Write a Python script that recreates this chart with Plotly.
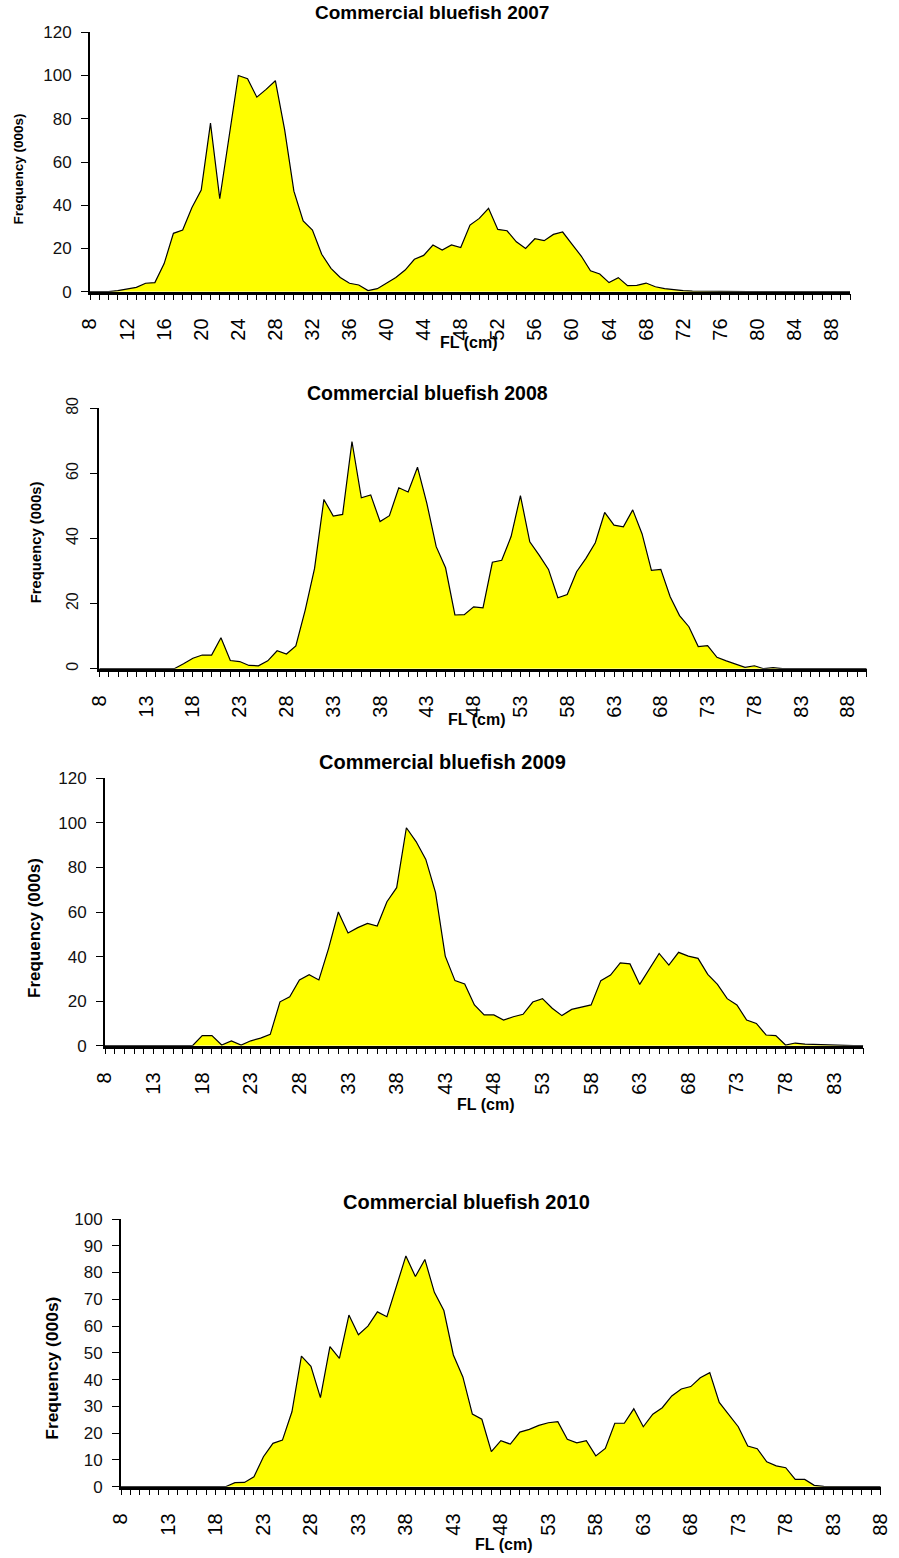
import plotly.graph_objects as go

# Length-frequency of commercial bluefish landings, by fork length (cm)
len_2007 = list(range(8, 91))
freq_2007 = [0, 0, 0, 0.5, 1.2, 2, 3.9, 4.2, 13, 27, 28.5, 39, 47, 78, 43, 72,
             100, 98.5, 90, 93.6, 97.6, 75, 46.5, 32.7, 28.5, 17.3, 10.8, 6.6,
             3.9, 3.1, 0.5, 1.4, 3.9, 6.6, 10, 15, 16.8, 21.6, 19.3, 21.6, 20.4,
             30.8, 33.9, 38.6, 28.8, 28.2, 23.1, 20, 24.5, 23.6, 26.5, 27.6, 22,
             16.5, 9.7, 8.2, 4.2, 6.5, 2.8, 2.9, 4, 2.3, 1.4, 0.8, 0.5, 0.3, 0.2,
             0.1, 0.1, 0, 0, 0, 0, 0, 0, 0, 0, 0, 0, 0, 0, 0, 0]

len_2008 = list(range(8, 91))
freq_2008 = [0, 0, 0, 0, 0, 0, 0, 0, 0, 1.5, 3.2, 4.2, 4.2, 9.5, 2.5, 2.2, 1.0,
             0.9, 2.4, 5.5, 4.5, 7, 18, 30.8, 52, 46.9, 47.4, 69.8, 52.5, 53.4,
             45.2, 47, 55.6, 54.3, 61.9, 50.8, 37.5, 31, 16.5, 16.6, 19, 18.7,
             32.7, 33.3, 40.6, 53.2, 39, 34.9, 30.5, 21.8, 22.8, 29.8, 33.9, 38.7,
             48, 44.1, 43.6, 48.8, 41.4, 30.2, 30.5, 22.1, 16.3, 12.9, 6.8, 7.1,
             3.5, 2.4, 1.5, 0.4, 0.9, 0, 0.3, 0, 0, 0, 0, 0, 0, 0, 0, 0, 0]

len_2009 = list(range(8, 87))
freq_2009 = [0, 0, 0, 0, 0, 0, 0, 0, 0, 0, 4.5, 4.5, 0.3, 2.1, 0.3, 2.2, 3.4,
             5.1, 19.7, 22, 29.5, 31.9, 29.5, 43.7, 60, 50.6, 53, 54.9, 53.7,
             64.6, 70.9, 97.8, 91.6, 83.6, 68.7, 40.2, 29.2, 27.7, 18.3, 13.8,
             13.8, 11.5, 13, 14.1, 19.6, 21.1, 16.8, 13.5, 16.3, 17.2, 18.3, 29.2,
             31.7, 37.2, 36.7, 27.5, 34.6, 41.4, 36.2, 41.9, 40.2, 39.2, 32, 27.5,
             21.1, 18.3, 11.5, 10, 4.8, 4.5, 0.3, 1.2, 0.7, 0.5, 0.5, 0.4, 0.2, 0, 0]

len_2010 = list(range(8, 89))
freq_2010 = [0, 0, 0, 0, 0, 0, 0, 0, 0, 0, 0, 0, 1.5, 1.6, 3.7, 11.2, 16.2,
             17.4, 28, 48.8, 45, 33.3, 52.3, 47.9, 64.1, 56.8, 60, 65.3, 63.5,
             74.7, 86.2, 78.5, 84.9, 72.6, 65.8, 49.2, 41, 27.1, 25.2, 13.1, 17.2,
             15.9, 20.4, 21.4, 22.9, 23.9, 24.3, 17.7, 16.4, 17.2, 11.5, 14.3,
             23.7, 23.7, 29.1, 22.4, 27.1, 29.5, 33.9, 36.5, 37.4, 40.7, 42.6,
             31.5, 27.1, 22.4, 15.2, 14.2, 9.3, 7.8, 7.1, 2.7, 2.7, 0.5, 0.1, 0,
             0, 0, 0, 0, 0]

titles = ["Commercial bluefish 2007", "Commercial bluefish 2008",
          "Commercial bluefish 2009", "Commercial bluefish 2010"]
y_title = "Frequency (000s)"
x_title = "FL (cm)"

W, H = 899, 1558
FONT = "Arial, 'Liberation Sans', sans-serif"

# panel geometry in pixels: plot box (left, top, right, bottom)
panels = [
    dict(x=len_2007, y=freq_2007, box=(90, 32.3, 850, 291.7), xr=[8, 90], xd=4,
         yr=[0, 120], yd=20, ytick_angle=0, ytick_size=17, title_pos=(431.5, 12), title_size=19,
         ytitle_pos=(17.5, 169), ytitle_size=13.5, xtitle_pos=(468.7, 342.5)),
    dict(x=len_2008, y=freq_2008, box=(99.3, 408.3, 866.7, 668.7), xr=[8, 90], xd=5,
         yr=[0, 80], yd=20, ytick_angle=-90, ytick_size=16, title_pos=(427.5, 393), title_size=19.5,
         ytitle_pos=(36.7, 542.5), ytitle_size=14.8, xtitle_pos=(476, 719)),
    dict(x=len_2009, y=freq_2009, box=(105, 778.3, 863.3, 1045.7), xr=[8, 86], xd=5,
         yr=[0, 120], yd=20, ytick_angle=0, ytick_size=17, title_pos=(442, 762), title_size=20,
         ytitle_pos=(34.7, 928.3), ytitle_size=17, xtitle_pos=(486, 1104)),
    dict(x=len_2010, y=freq_2010, box=(121, 1219, 880.7, 1486.7), xr=[8, 88], xd=5,
         yr=[0, 100], yd=10, ytick_angle=0, ytick_size=17, title_pos=(466, 1202), title_size=20,
         ytitle_pos=(51.7, 1368), ytitle_size=17.4, xtitle_pos=(503, 1544)),
]

fig = go.Figure()
annotations = []
layout = {}

for i, p in enumerate(panels, start=1):
    assert len(p["x"]) == len(p["y"])
    sfx = "" if i == 1 else str(i)
    l, t, r, b = p["box"]
    fig.add_trace(go.Scatter(
        x=p["x"], y=p["y"], mode="lines", fill="tozeroy",
        fillcolor="#FFFF00", line=dict(color="black", width=1.2),
        xaxis="x" + sfx, yaxis="y" + sfx, showlegend=False,
        hoverinfo="x+y"))
    layout["xaxis" + sfx] = dict(
        domain=[l / W, r / W], anchor="y" + sfx, range=p["xr"],
        tickmode="linear", tick0=8, dtick=p["xd"], tickangle=-90,
        ticks="outside", ticklen=6, tickwidth=1, tickcolor="black",
        minor=dict(ticks="outside", dtick=1, tick0=8, ticklen=6, tickwidth=1,
                   tickcolor="black"),
        showline=True, linecolor="black", linewidth=2.5,
        showgrid=False, zeroline=False, automargin=False,
        tickfont=dict(family=FONT, size=20, color="black"),
        ticklabelstandoff=10)
    layout["yaxis" + sfx] = dict(
        domain=[1 - b / H, 1 - t / H], anchor="x" + sfx, range=p["yr"],
        tickmode="linear", tick0=0, dtick=p["yd"], tickangle=p["ytick_angle"],
        ticks="outside", ticklen=7, tickwidth=1, tickcolor="black",
        showline=True, linecolor="black", linewidth=2,
        showgrid=False, zeroline=False, automargin=False,
        tickfont=dict(family=FONT, size=p["ytick_size"], color="#111111"),
        ticklabelstandoff=6)
    tx, ty = p["title_pos"]
    annotations.append(dict(
        text="<b>%s</b>" % titles[i - 1], x=tx / W, y=1 - ty / H,
        xref="paper", yref="paper", xanchor="center", yanchor="middle",
        showarrow=False, font=dict(family=FONT, size=p["title_size"], color="black")))
    yx, yy = p["ytitle_pos"]
    annotations.append(dict(
        text="<b>%s</b>" % y_title, x=yx / W, y=1 - yy / H, textangle=-90,
        xref="paper", yref="paper", xanchor="center", yanchor="middle",
        showarrow=False, font=dict(family=FONT, size=p["ytitle_size"], color="black")))
    fx, fy = p["xtitle_pos"]
    annotations.append(dict(
        text="<b>%s</b>" % x_title, x=fx / W, y=1 - fy / H,
        xref="paper", yref="paper", xanchor="center", yanchor="middle",
        showarrow=False, font=dict(family=FONT, size=16, color="black")))

fig.update_layout(
    width=W, height=H, autosize=False,
    margin=dict(l=0, r=0, t=0, b=0, pad=0, autoexpand=False),
    paper_bgcolor="white", plot_bgcolor="white",
    annotations=annotations, **layout)

fig.write_html("out.html", config={"responsive": False})
